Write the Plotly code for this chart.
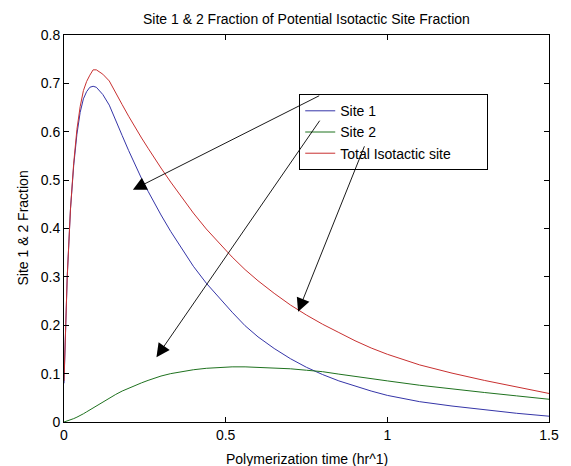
import plotly.graph_objects as go

# Polymerization time (hr^-1) samples shared by all three curves
time = [0, 0.005, 0.01, 0.02, 0.03, 0.04, 0.05, 0.06, 0.07, 0.08, 0.09, 0.10,
        0.12, 0.14, 0.16, 0.18, 0.20, 0.22, 0.24, 0.26, 0.28, 0.30, 0.33, 0.36,
        0.40, 0.44, 0.48, 0.52, 0.56, 0.60, 0.65, 0.70, 0.75, 0.80, 0.85, 0.90,
        0.95, 1.00, 1.10, 1.20, 1.30, 1.40, 1.50]

site1 = [0.08, 0.20, 0.30, 0.44, 0.53, 0.595, 0.64, 0.668, 0.683, 0.692, 0.694, 0.692,
         0.677, 0.655, 0.625, 0.592, 0.561, 0.531, 0.503, 0.477, 0.452, 0.428, 0.394, 0.362,
         0.322, 0.287, 0.256, 0.227, 0.199, 0.176, 0.152, 0.131, 0.113, 0.098, 0.085, 0.074,
         0.064, 0.055, 0.042, 0.033, 0.025, 0.018, 0.012]

site2 = [0.0, 0.001, 0.002, 0.004, 0.007, 0.010, 0.013, 0.017, 0.021, 0.025, 0.029, 0.033,
         0.042, 0.050, 0.057, 0.064, 0.070, 0.076, 0.081, 0.086, 0.091, 0.095, 0.100, 0.104,
         0.108, 0.111, 0.113, 0.114, 0.114, 0.113, 0.112, 0.110, 0.107, 0.104, 0.099, 0.094,
         0.089, 0.085, 0.076, 0.068, 0.061, 0.054, 0.047]

total = [0.085, 0.20, 0.30, 0.44, 0.535, 0.605, 0.652, 0.685, 0.704, 0.717, 0.728, 0.728,
         0.719, 0.705, 0.682, 0.656, 0.632, 0.609, 0.587, 0.566, 0.545, 0.525, 0.496, 0.468,
         0.432, 0.399, 0.369, 0.341, 0.315, 0.292, 0.266, 0.242, 0.221, 0.202, 0.185, 0.168,
         0.153, 0.140, 0.118, 0.101, 0.086, 0.072, 0.059]

series_names = ["Site 1", "Site 2", "Total Isotactic site"]
series_colors = ["#3535a8", "#1f721f", "#c83030"]

x_ticks = [0, 0.5, 1, 1.5]
x_tick_text = ["0", "0.5", "1", "1.5"]
y_ticks = [0, 0.1, 0.2, 0.3, 0.4, 0.5, 0.6, 0.7, 0.8]
y_tick_text = ["0", "0.1", "0.2", "0.3", "0.4", "0.5", "0.6", "0.7", "0.8"]

# Arrows: (tail_x, tail_y, head_x, head_y) in data units
arrows = [
    (0.794, 0.676, 0.213, 0.480),
    (0.794, 0.626, 0.286, 0.134),
    (0.931, 0.573, 0.724, 0.228),
]

FONT = "Liberation Sans, Arial, sans-serif"
FS = 14
# trailing padding so the legend box has some room on its right side
PAD = "\u00a0" * 8

fig = go.Figure()
for name, ys, col in zip(series_names, [site1, site2, total], series_colors):
    fig.add_trace(go.Scatter(x=time, y=ys, mode="lines", name=name + PAD,
                             line=dict(color=col, width=1)))

for tx, ty, hx, hy in arrows:
    fig.add_annotation(x=hx, y=hy, ax=tx, ay=ty, xref="x", yref="y",
                       axref="x", ayref="y", text="", showarrow=True,
                       arrowhead=2, arrowsize=3.0, arrowwidth=0.9,
                       arrowcolor="black", standoff=0)

fig.add_annotation(text="Site 1 & 2 Fraction of Potential Isotactic Site Fraction",
                   xref="paper", yref="paper", x=0.5, y=1, yshift=16,
                   xanchor="center", yanchor="middle",
                   showarrow=False, font=dict(size=FS, color="black"))
fig.add_annotation(text="Polymerization time (hr^1)",
                   xref="paper", yref="paper", x=0.5, y=0, yshift=-37,
                   xanchor="center", yanchor="middle",
                   showarrow=False, font=dict(size=FS, color="black"))
fig.add_annotation(text="Site 1 & 2 Fraction", textangle=-90,
                   xref="paper", yref="paper", x=0, y=0.5, xshift=-42,
                   xanchor="center", yanchor="middle",
                   showarrow=False, font=dict(size=FS, color="black"))

axis_common = dict(showline=True, linecolor="black", linewidth=1, mirror="ticks",
                   ticks="inside", ticklen=5, tickcolor="black", showgrid=False,
                   zeroline=False, tickfont=dict(size=FS, color="black"))

fig.update_layout(
    width=571, height=466,
    margin=dict(l=64, r=14, t=35, b=44),
    paper_bgcolor="white", plot_bgcolor="white",
    font=dict(family=FONT, size=FS, color="black"),
    showlegend=True,
    legend=dict(x=0.485, y=0.847, xanchor="left", yanchor="top",
                bgcolor="white", bordercolor="black", borderwidth=1,
                font=dict(size=FS), tracegroupgap=0),
    xaxis=dict(range=[0, 1.5], tickvals=x_ticks, ticktext=x_tick_text, **axis_common),
    yaxis=dict(range=[0, 0.8], tickvals=y_ticks, ticktext=y_tick_text, **axis_common),
)

fig.write_html("out.html")
